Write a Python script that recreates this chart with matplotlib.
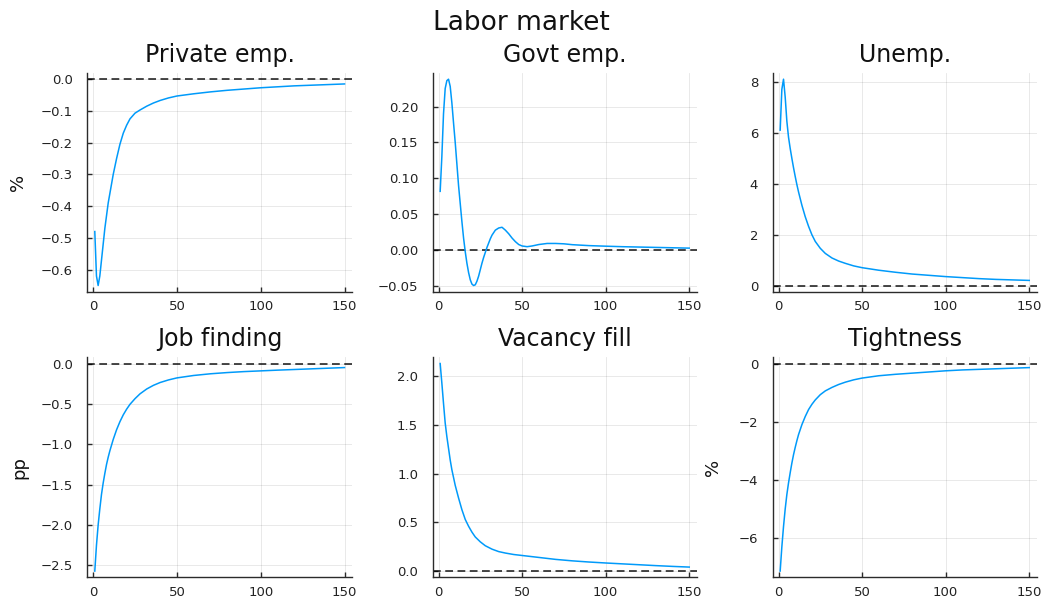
import matplotlib
matplotlib.use("Agg")
import matplotlib.pyplot as plt
from matplotlib.ticker import FixedLocator, FuncFormatter

# Impulse responses of labor-market variables (horizon in quarters)
horizon = [1, 2, 3, 4, 5, 6, 7, 8, 9, 10, 11, 12, 14, 16, 18, 20, 22, 25, 28,
           32, 36, 40, 45, 50, 60, 70, 80, 90, 100, 110, 120, 130, 140, 150]

private_emp = [-0.48, -0.62, -0.65, -0.62, -0.57, -0.52, -0.47, -0.43, -0.39,
               -0.36, -0.33, -0.30, -0.25, -0.205, -0.17, -0.145, -0.125,
               -0.107, -0.097, -0.085, -0.075, -0.067, -0.059, -0.053, -0.046,
               -0.040, -0.035, -0.031, -0.027, -0.024, -0.021, -0.019, -0.017,
               -0.015]

unemp = [6.1, 7.7, 8.1, 7.4, 6.45, 5.82, 5.38, 4.99, 4.62, 4.28, 3.96, 3.67,
         3.15, 2.70, 2.32, 1.99, 1.73, 1.46, 1.26, 1.08, 0.96, 0.87, 0.77,
         0.70, 0.60, 0.52, 0.45, 0.40, 0.35, 0.31, 0.27, 0.24, 0.22, 0.20]

job_finding = [-2.57, -2.25, -2.0, -1.80, -1.62, -1.48, -1.36, -1.25, -1.16,
               -1.08, -1.01, -0.94, -0.82, -0.72, -0.635, -0.565, -0.505,
               -0.435, -0.375, -0.315, -0.27, -0.235, -0.203, -0.178, -0.148,
               -0.127, -0.112, -0.100, -0.091, -0.082, -0.074, -0.066, -0.058,
               -0.05]

vacancy_fill = [2.13, 1.93, 1.72, 1.52, 1.38, 1.26, 1.14, 1.04, 0.96, 0.88,
                0.815, 0.75, 0.63, 0.53, 0.46, 0.40, 0.35, 0.30, 0.26, 0.225,
                0.20, 0.185, 0.17, 0.16, 0.14, 0.12, 0.105, 0.093, 0.083, 0.074,
                0.065, 0.056, 0.048, 0.041]

tightness = [-7.13, -6.3, -5.6, -5.0, -4.5, -4.1, -3.75, -3.42, -3.13, -2.88,
             -2.65, -2.44, -2.10, -1.82, -1.58, -1.40, -1.25, -1.07, -0.94,
             -0.82, -0.72, -0.64, -0.56, -0.50, -0.42, -0.37, -0.33, -0.29,
             -0.25, -0.22, -0.20, -0.18, -0.16, -0.14]

govt_horizon = [1, 2, 3, 4, 5, 6, 7, 8, 9, 10, 11, 12, 13, 14, 15, 16, 17, 18,
                19, 20, 21, 22, 23, 24, 25, 26, 27, 28, 29, 30, 31, 32, 34, 36,
                38, 40, 42, 44, 46, 48, 50, 53, 56, 60, 65, 70, 75, 80, 90, 100,
                110, 120, 130, 140, 150]

govt_emp = [0.082, 0.13, 0.19, 0.225, 0.236, 0.238, 0.228, 0.205, 0.177, 0.15,
            0.12, 0.09, 0.065, 0.04, 0.017, -0.002, -0.018, -0.031, -0.041,
            -0.047, -0.049, -0.048, -0.043, -0.036, -0.027, -0.018, -0.010,
            -0.003, 0.004, 0.010, 0.016, 0.021, 0.028, 0.031, 0.032, 0.028,
            0.023, 0.017, 0.012, 0.008, 0.006, 0.005, 0.006, 0.008, 0.0095,
            0.0095, 0.009, 0.0078, 0.0065, 0.0057, 0.005, 0.0045, 0.004,
            0.0035, 0.003]

titles = ["Private emp.", "Govt emp.", "Unemp.", "Job finding", "Vacancy fill",
          "Tightness"]
ylabels = ["%", "", "", "pp", "", "%"]
xticks = [0, 50, 100, 150]
yticks = [
    [0.0, -0.1, -0.2, -0.3, -0.4, -0.5, -0.6],
    [-0.05, 0.0, 0.05, 0.10, 0.15, 0.20],
    [0, 2, 4, 6, 8],
    [0.0, -0.5, -1.0, -1.5, -2.0, -2.5],
    [0.0, 0.5, 1.0, 1.5, 2.0],
    [0, -2, -4, -6],
]
ytick_fmt = ["{:.1f}", "{:.2f}", "{:.0f}", "{:.1f}", "{:.1f}", "{:.0f}"]

series = [
    (horizon, private_emp),
    (govt_horizon, govt_emp),
    (horizon, unemp),
    (horizon, job_finding),
    (horizon, vacancy_fill),
    (horizon, tightness),
]

W, H = 1042, 601
fig = plt.figure(figsize=(W / 100, H / 100), dpi=100)

# panel boxes in pixels: (left, top, right, bottom)
lefts = [87.3, 432.7, 772.7]
rights = [352.0, 696.7, 1036.7]
rows = [(73.0, 291.7), (357.3, 577.3)]
ylabel_x = [-0.262, None, None, -0.258, None, -0.225]

LINE_BLUE = "#009AFA"
AXIS_COL = "#2b2b2b"

for i, (title, (xs, ys)) in enumerate(zip(titles, series)):
    r, c = divmod(i, 3)
    top, bot = rows[r]
    ax = fig.add_axes([lefts[c] / W, 1 - bot / H,
                       (rights[c] - lefts[c]) / W, (bot - top) / H])
    ax.plot(xs, ys, color=LINE_BLUE, lw=1.1, zorder=3)
    ax.axhline(0, color="black", alpha=0.72, lw=1.4,
               dashes=(4.0, 2.3), zorder=2)

    xlo, xhi = min(xs), max(xs)
    xpad = 0.03 * (xhi - xlo)
    ax.set_xlim(xlo - xpad, xhi + xpad)
    ylo, yhi = min(min(ys), 0), max(max(ys), 0)
    ypad = 0.03 * (yhi - ylo)
    ax.set_ylim(ylo - ypad, yhi + ypad)

    ax.xaxis.set_major_locator(FixedLocator(xticks))
    ax.yaxis.set_major_locator(FixedLocator(yticks[i]))
    fmt = ytick_fmt[i]
    ax.yaxis.set_major_formatter(
        FuncFormatter(lambda v, p, f=fmt: f.format(v).replace("-", "\u2212")))

    ax.grid(True, color="black", alpha=0.1, lw=0.6)
    ax.set_axisbelow(True)
    for side in ("top", "right"):
        ax.spines[side].set_visible(False)
    for side in ("left", "bottom"):
        ax.spines[side].set_color(AXIS_COL)
        ax.spines[side].set_linewidth(1.0)
    ax.tick_params(direction="in", length=3.5, width=1.0, color=AXIS_COL,
                   labelsize=9.5, labelcolor="#222222")
    ax.tick_params(axis="y", pad=10.5)
    ax.tick_params(axis="x", pad=6)

    ax.set_title(title, fontsize=17, pad=8, color="#111111")
    if ylabels[i]:
        ax.text(ylabel_x[i], 0.5, ylabels[i], transform=ax.transAxes,
                rotation=90, ha="center", va="center", fontsize=13,
                color="#111111")

fig.text(0.5, 1 - 23 / H, "Labor market", ha="center", va="center",
         fontsize=19, color="#111111")

fig.savefig("out.png", dpi=100, facecolor="white")
